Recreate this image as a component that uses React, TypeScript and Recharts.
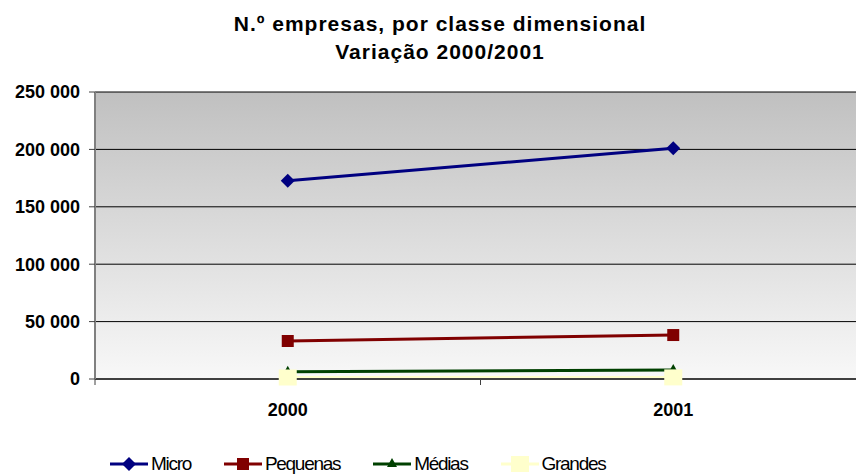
import { LineChart, Line, XAxis, YAxis, CartesianGrid } from 'recharts';

const anos = ['2000', '2001'];
const micro = [172700, 200900];
const pequenas = [33100, 38300];
const medias = [6400, 7800];
const grandes = [1300, 1400];
const yTicks = [0, 50000, 100000, 150000, 200000, 250000];

const series = [
  { key: 'Micro', values: micro, color: '#000080', marker: 'diamond' },
  { key: 'Pequenas', values: pequenas, color: '#800000', marker: 'square' },
  { key: 'Médias', values: medias, color: '#004000', marker: 'triangle' },
  { key: 'Grandes', values: grandes, color: '#FFFFCC', marker: 'bigsquare' }
];

const data = anos.map((ano, i) => {
  const row: Record<string, string | number> = { ano };
  series.forEach((s) => {
    row[s.key] = s.values[i];
  });
  return row;
});

const W = 880;
const H = 474;
const M = { top: 92, right: 14, bottom: 65, left: 0 };
const Y_W = 95;
const band = (W - M.left - M.right - Y_W) / anos.length;
const font = "'Liberation Sans', Arial, sans-serif";

const fmt = (v: number) => String(v).replace(/\B(?=(\d{3})+(?!\d))/g, ' ');

const Marker = ({ type, color, cx, cy }: { type: string; color: string; cx: number; cy: number }) => {
  if (type === 'diamond') {
    return <polygon points={`${cx},${cy - 7} ${cx + 7},${cy} ${cx},${cy + 7} ${cx - 7},${cy}`} fill={color} />;
  }
  if (type === 'square') {
    return <rect x={cx - 6} y={cy - 6} width={12} height={12} fill={color} />;
  }
  if (type === 'triangle') {
    return <polygon points={`${cx},${cy - 6} ${cx + 5},${cy + 3} ${cx - 5},${cy + 3}`} fill={color} />;
  }
  return <rect x={cx - 9} y={cy - 8} width={18} height={16} fill={color} />;
};

const XTick = (props: any) => {
  const { x, y, payload } = props;
  return (
    <g>
      <line x1={x - band / 2} x2={x - band / 2} y1={y - 22} y2={y - 16} stroke="#404040" strokeWidth={1} />
      <text x={x} y={y + 15} textAnchor="middle" fontFamily={font} fontWeight="bold" fontSize={18} fill="#000">
        {payload.value}
      </text>
    </g>
  );
};

const Legenda = () => (
  <div
    style={{
      position: 'absolute',
      left: 110,
      top: 453,
      display: 'flex',
      gap: 33,
      alignItems: 'center'
    }}
  >
    {series.map((s) => (
      <div key={s.key} style={{ display: 'flex', alignItems: 'center' }}>
        <svg width={38} height={18}>
          <line x1={0} x2={38} y1={9} y2={9} stroke={s.color} strokeWidth={3} />
          <Marker type={s.marker} color={s.color} cx={19} cy={9} />
        </svg>
        <span style={{ fontFamily: font, fontSize: 19, letterSpacing: -1.3, marginLeft: 3, color: '#000' }}>
          {s.key}
        </span>
      </div>
    ))}
  </div>
);

export default function App() {
  return (
    <div style={{ position: 'absolute', left: 0, top: 0, width: 856, height: 474, overflow: 'hidden', background: '#fff' }}>
      <div
        style={{
          position: 'absolute',
          left: 0,
          top: 10,
          width: 880,
          textAlign: 'center',
          fontFamily: font,
          fontWeight: 'bold',
          fontSize: 21,
          letterSpacing: 1,
          lineHeight: '28px',
          color: '#000',
          zIndex: 2
        }}
      >
        N.º empresas, por classe dimensional
        <br />
        Variação 2000/2001
      </div>
      <LineChart width={W} height={H} data={data} margin={M}>
        <defs>
          <linearGradient id="fundo" x1="0" y1="0" x2="0" y2="1">
            <stop offset="0%" stopColor="#c0c0c0" />
            <stop offset="100%" stopColor="#f8f8f8" />
          </linearGradient>
        </defs>
        <CartesianGrid vertical={false} stroke="#000" fill="url(#fundo)" strokeWidth={1} />
        <XAxis
          dataKey="ano"
          scale="band"
          axisLine={{ stroke: '#404040', strokeWidth: 2 }}
          tickLine={false}
          tickSize={0}
          tickMargin={22}
          tick={<XTick />}
          height={30}
        />
        <YAxis
          width={Y_W}
          domain={[0, 250000]}
          ticks={yTicks}
          tickFormatter={fmt}
          axisLine={{ stroke: '#808080', strokeWidth: 2 }}
          tickLine={{ stroke: '#404040' }}
          tickSize={6}
          tickMargin={9}
          tick={{ fontFamily: font, fontWeight: 'bold', fontSize: 18, fill: '#000' }}
        />
        {series.map((s) => (
          <Line
            key={s.key}
            dataKey={s.key}
            stroke={s.color}
            strokeWidth={3}
            isAnimationActive={false}
            dot={(p: any) => <Marker key={`${s.key}-${p.index}`} type={s.marker} color={s.color} cx={p.cx} cy={p.cy} />}
            activeDot={false}
          />
        ))}
      </LineChart>
      <Legenda />
    </div>
  );
}
